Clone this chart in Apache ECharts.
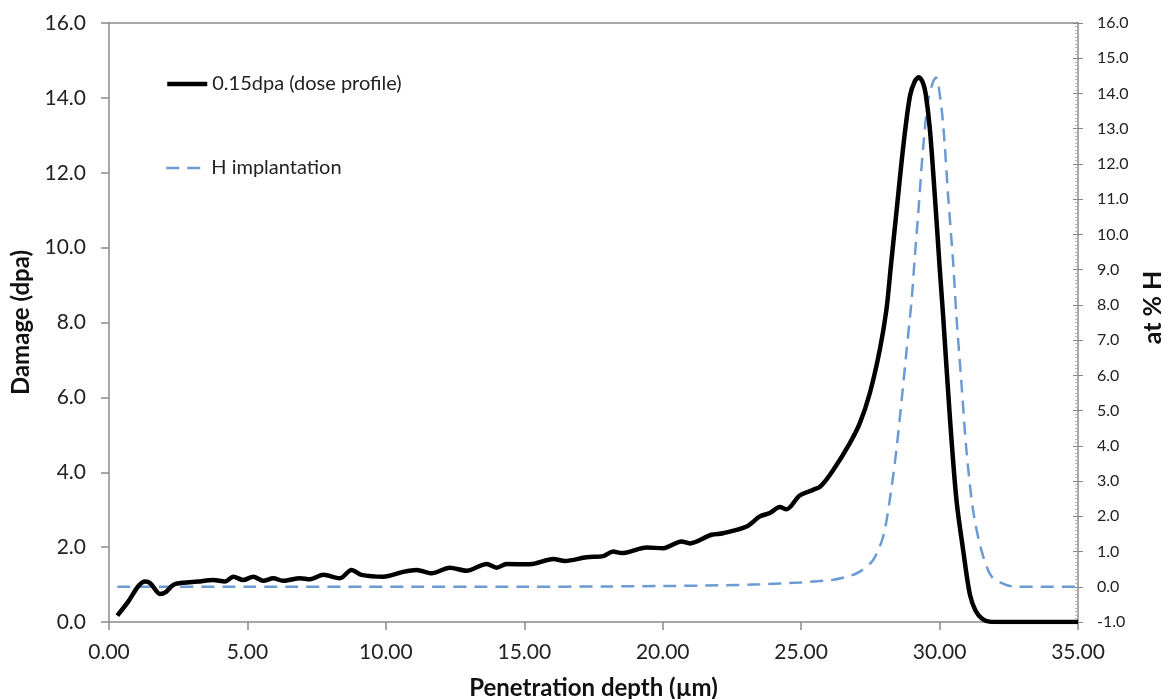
<!DOCTYPE html>
<html>
<head>
<meta charset="utf-8">
<title>Damage and H implantation profile</title>
<script src="https://cdn.jsdelivr.net/npm/echarts@6/dist/echarts.min.js"></script>
<style>
  html, body { margin: 0; padding: 0; background: #fff; }
  #chart { width: 1163px; height: 699px; }
</style>
</head>
<body>
<div id="chart"></div>
<script>
// 损伤曲线 (dpa, 左轴)
var damageDepth = [0.30, 0.70, 1.05, 1.30, 1.50, 1.84, 2.05, 2.32, 2.68, 3.20, 3.77, 4.19, 4.49, 4.85,
  5.21, 5.57, 5.93, 6.29, 6.90, 7.26, 7.74, 8.34, 8.76, 9.12, 9.91, 10.63, 11.11, 11.65, 12.31,
  12.92, 13.64, 14.00, 14.36, 15.20, 16.05, 16.47, 17.25, 17.85, 18.21, 18.52, 19.42, 20.02,
  20.68, 20.98, 21.76, 22.18, 23.03, 23.51, 23.87, 24.23, 24.47, 24.95, 25.43, 25.70, 26.16,
  26.76, 27.12, 27.48, 27.84, 28.08, 28.24, 28.44, 28.69, 28.93, 29.11, 29.25, 29.40, 29.50,
  29.65, 29.83, 30.01, 30.13, 30.37, 30.61, 30.85, 31.09, 31.30, 31.55, 31.80, 32.20, 35.00];
var damageValue = [0.17, 0.55, 0.95, 1.08, 1.03, 0.75, 0.80, 0.99, 1.05, 1.08, 1.12, 1.08, 1.21, 1.12,
  1.21, 1.10, 1.17, 1.10, 1.17, 1.14, 1.26, 1.17, 1.39, 1.26, 1.21, 1.34, 1.39, 1.30, 1.45,
  1.37, 1.55, 1.45, 1.55, 1.54, 1.68, 1.63, 1.73, 1.76, 1.88, 1.84, 1.99, 1.97,
  2.15, 2.10, 2.33, 2.37, 2.55, 2.82, 2.91, 3.07, 3.01, 3.38, 3.53, 3.62, 4.06,
  4.78, 5.31, 6.11, 7.27, 8.34, 9.50, 10.93, 12.71, 14.05, 14.45, 14.55, 14.40, 14.10,
  13.16, 11.37, 9.40, 8.16, 5.49, 3.26, 1.93, 0.75, 0.30, 0.08, 0.01, 0, 0];

// H 注入曲线 (at % H, 右轴)
var hDepth = [0.30, 5, 10, 15, 18, 20, 22, 23.5, 24.95, 26.16, 26.8, 27.12, 27.6, 27.96, 28.2,
  28.44, 28.63, 28.81, 28.99, 29.11, 29.23, 29.41, 29.59, 29.77, 29.87, 30.07, 30.19, 30.31,
  30.49, 30.61, 30.79, 30.97, 31.21, 31.51, 31.88, 32.42, 32.78, 35];
var hValue = [0, 0, 0, 0, 0.01, 0.02, 0.04, 0.07, 0.12, 0.20, 0.32, 0.43, 0.76, 1.42, 2.46,
  3.88, 5.30, 6.72, 8.14, 9.40, 10.60, 12.50, 13.82, 14.34, 14.45, 13.58, 12.50, 11.08,
  9.20, 7.67, 5.78, 3.88, 2.18, 1.04, 0.29, 0.05, 0, 0];

var seriesNames = ["0.15dpa (dose profile)", "H implantation"];

function pairs(xs, ys) {
  return xs.map(function (x, i) { return [x, ys[i]]; });
}

var font = "Lato, 'Noto Sans', sans-serif";
var axisGray = "#8a8a8a";

var chart = echarts.init(document.getElementById("chart"));
chart.setOption({
  animation: false,
  textStyle: { fontFamily: font },
  grid: { left: 109, right: 85, top: 23, bottom: 77, outerBoundsMode: "none" },
  legend: [
    {
      data: [seriesNames[0]],
      left: 160, top: 69,
      itemWidth: 40, itemHeight: 12,
      itemStyle: { opacity: 0 },
      lineStyle: { width: 4.5 },
      textStyle: { fontSize: 20, color: "#222", fontFamily: font }
    },
    {
      data: [seriesNames[1]],
      left: 160, top: 153,
      itemWidth: 40, itemHeight: 12,
      itemStyle: { opacity: 0 },
      lineStyle: { width: 2.5 },
      textStyle: { fontSize: 20, color: "#222", fontFamily: font }
    }
  ],
  xAxis: [
    {
      type: "value",
      min: 0, max: 35, interval: 5,
      name: "Penetration depth (µm)",
      nameLocation: "middle",
      nameGap: 54,
      nameTextStyle: { fontSize: 24, fontWeight: "bold", color: "#111", fontFamily: font },
      axisLine: { onZero: false, lineStyle: { color: axisGray, width: 1.5 } },
      axisTick: { length: 8, lineStyle: { color: axisGray, width: 1.5 } },
      axisLabel: {
        fontSize: 21, color: "#222", margin: 20,
        formatter: function (v) { return v.toFixed(2); }
      },
      splitLine: { show: false }
    },
    {
      // 顶部边框
      type: "value",
      position: "top",
      min: 0, max: 35,
      axisLine: { show: true, onZero: false, lineStyle: { color: axisGray, width: 1.5 } },
      axisTick: { show: false },
      axisLabel: { show: false },
      splitLine: { show: false }
    }
  ],
  yAxis: [
    {
      type: "value",
      min: 0, max: 16, interval: 2,
      name: "Damage (dpa)",
      nameLocation: "middle",
      nameRotate: 90,
      nameGap: 72,
      nameTextStyle: { fontSize: 24, fontWeight: "bold", color: "#111", fontFamily: font },
      axisLine: { show: true, onZero: false, lineStyle: { color: axisGray, width: 1.5 } },
      axisTick: { show: true, length: 8, lineStyle: { color: axisGray, width: 1.5 } },
      axisLabel: {
        fontSize: 21, color: "#222", margin: 23,
        formatter: function (v) { return v.toFixed(1); }
      },
      splitLine: { show: false }
    },
    {
      type: "value",
      position: "right",
      min: -1, max: 16, interval: 1,
      name: "at % H",
      nameLocation: "middle",
      nameRotate: 90,
      nameGap: 62,
      nameTextStyle: { fontSize: 25, fontWeight: "bold", color: "#111", fontFamily: font, padding: [0, 0, 0, 30] },
      axisLine: { show: true, onZero: false, lineStyle: { color: axisGray, width: 1.5 } },
      axisTick: { show: true, length: 5, lineStyle: { color: axisGray, width: 1 } },
      axisLabel: {
        fontSize: 16, color: "#222", margin: 19,
        formatter: function (v) { return v.toFixed(1); }
      },
      splitLine: { show: false }
    },
    {
      // 右轴内侧的小刻度
      type: "value",
      position: "right",
      min: -1, max: 16, interval: 1,
      axisLine: { show: false, onZero: false },
      axisTick: { show: true, inside: true, length: 5, lineStyle: { color: axisGray, width: 1 } },
      minorTick: { show: true, splitNumber: 10, length: 3, lineStyle: { color: "#b5b5b5", width: 1 } },
      axisLabel: { show: false },
      splitLine: { show: false }
    }
  ],
  series: [
    {
      name: seriesNames[1],
      type: "line",
      yAxisIndex: 1,
      symbol: "none",
      smooth: 0.3,
      lineStyle: { color: "#6b9bd2", width: 2.5, type: [13, 8] },
      itemStyle: { color: "#6b9bd2" },
      data: pairs(hDepth, hValue),
      z: 2
    },
    {
      name: seriesNames[0],
      type: "line",
      yAxisIndex: 0,
      symbol: "none",
      smooth: 0.3,
      lineStyle: { color: "#000", width: 4.5 },
      itemStyle: { color: "#000" },
      data: pairs(damageDepth, damageValue),
      z: 3
    }
  ]
});
</script>
</body>
</html>
